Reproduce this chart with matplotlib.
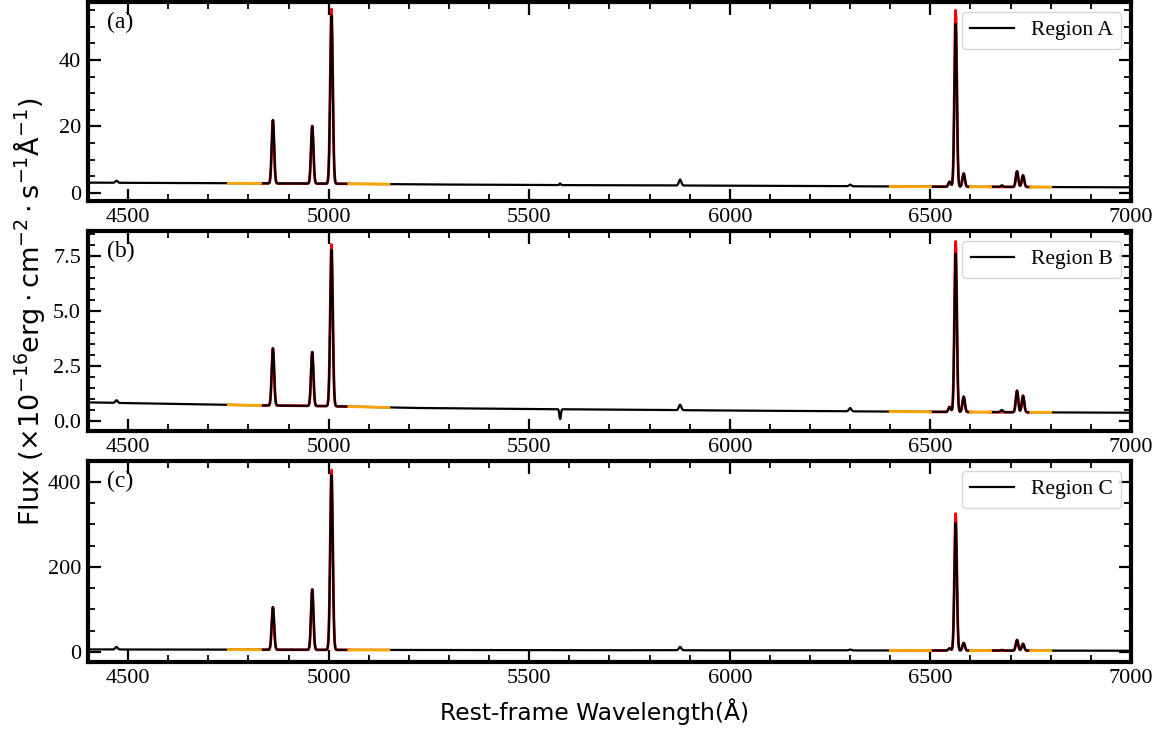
import numpy as np
import matplotlib.pyplot as plt
from matplotlib.ticker import MultipleLocator

# Raies (Å) : HeI, Hb, [OIII], [OIII], 5577, HeI, [OI], [NII], Ha, [NII], HeI, [SII], [SII]
raies = [4471, 4861, 4959, 5007, 5577, 5876, 6300, 6548, 6563, 6583, 6678, 6716, 6731]
sigmas = [3.0, 3.0, 3.0, 3.2, 1.8, 3.0, 3.0, 3.0, 3.0, 3.0, 3.0, 3.0, 3.0]
# raies ajustées par le modèle (rouge)
raies_fit = [4861, 4959, 5007, 6548, 6563, 6583, 6716, 6731]

# Continuum
cont_lambda = [4400, 4800, 5000, 5200, 5500, 6000, 6500, 7000]
cont_a = [3.1, 2.9, 2.8, 2.6, 2.4, 2.2, 1.9, 1.7]
cont_b = [0.85, 0.72, 0.68, 0.6, 0.55, 0.48, 0.42, 0.38]
cont_c = [6.0, 5.5, 5.0, 4.7, 4.3, 4.0, 3.5, 3.0]

# Hauteurs des raies au-dessus du continuum (observé)
pics_obs_a = [0.6, 19.0, 17.3, 50.5, 0.5, 1.8, 0.5, 1.5, 49.0, 4.0, 0.5, 4.7, 3.5]
pics_obs_b = [0.12, 2.6, 2.45, 7.1, -0.45, 0.25, 0.15, 0.23, 7.2, 0.7, 0.1, 0.98, 0.75]
pics_obs_c = [6.0, 100.0, 142.0, 411.0, 0.0, 8.0, 2.0, 5.0, 300.0, 18.0, 2.0, 25.0, 16.0]
# Hauteurs du modèle (rouge)
pics_fit_a = [19.0, 17.3, 52.5, 1.5, 53.0, 4.0, 4.7, 3.5]
pics_fit_b = [2.6, 2.45, 7.35, 0.23, 7.75, 0.7, 0.98, 0.75]
pics_fit_c = [100.0, 142.0, 423.0, 5.0, 322.0, 18.0, 25.0, 16.0]

fenetres_cont = [(4750, 4830), (5050, 5150), (6400, 6500), (6600, 6650), (6750, 6800)]
fenetres_fit = [(4830, 5050), (6500, 6600), (6650, 6750)]

noms = ['Region A', 'Region B', 'Region C']
lettres = ['(a)', '(b)', '(c)']
ylims = [(-2.4, 57.4), (-0.45, 8.64), (-23.5, 449)]
majeurs = [20, 2.5, 200]
mineurs = [5, 0.5, 50]

lam = np.arange(4400, 7001, 1.0)


def gauss(centre, sigma, hauteur):
    return hauteur * np.exp(-0.5 * ((lam - centre) / sigma) ** 2)


def spectre(cont, pics, centres):
    flux = np.interp(lam, cont_lambda, cont)
    for c, h in zip(centres, pics):
        s = sigmas[raies.index(c)]
        flux = flux + gauss(c, s, h)
    return flux


plt.rcParams['font.family'] = ['Liberation Serif', 'DejaVu Serif']
plt.rcParams['mathtext.fontset'] = 'dejavusans'

fig = plt.figure(figsize=(11.64, 7.34), dpi=100)
positions = [(0.0756, 0.7262, 0.896, 0.2711),
             (0.0756, 0.4128, 0.896, 0.2725),
             (0.0756, 0.0981, 0.896, 0.2738)]

donnees = [(cont_a, pics_obs_a, pics_fit_a),
           (cont_b, pics_obs_b, pics_fit_b),
           (cont_c, pics_obs_c, pics_fit_c)]

for i, (cont, obs, fit) in enumerate(donnees):
    ax = fig.add_axes(positions[i])
    flux_obs = spectre(cont, obs, raies)
    flux_fit = spectre(cont, fit, raies_fit)

    # modèle en rouge sous le spectre
    for a, b in fenetres_fit:
        m = (lam >= a) & (lam <= b)
        ax.plot(lam[m], flux_fit[m], color='red', lw=2.0, zorder=2)
    ax.plot(lam, flux_obs, color='black', lw=1.6, label=noms[i], zorder=3)
    # fenêtres de continuum en orange
    for a, b in fenetres_cont:
        m = (lam >= a) & (lam <= b)
        ax.plot(lam[m], flux_obs[m], color='orange', lw=2.0, zorder=4)

    ax.set_xlim(4400, 7000)
    ax.set_ylim(*ylims[i])
    ax.xaxis.set_major_locator(MultipleLocator(500))
    ax.xaxis.set_minor_locator(MultipleLocator(100))
    ax.yaxis.set_major_locator(MultipleLocator(majeurs[i]))
    ax.yaxis.set_minor_locator(MultipleLocator(mineurs[i]))
    ax.tick_params(which='both', direction='in', top=True, right=True, labelsize=16)
    ax.tick_params(which='major', length=9, width=1.6, pad=5)
    ax.tick_params(which='minor', length=5, width=1.3)
    for sp in ax.spines.values():
        sp.set_linewidth(3)

    ax.text(0.018, 0.95, lettres[i], transform=ax.transAxes, fontsize=17,
            va='top', ha='left')
    ax.legend(loc='upper right', fontsize=15.5, handlelength=2.0,
              borderaxespad=0.45)

fig.text(0.025, 0.575,
         r'Flux ($\times 10^{-16}\mathrm{erg} \cdot \mathrm{cm}^{-2} \cdot '
         r'\mathrm{s}^{-1}\mathrm{\AA}^{-1}$)',
         rotation=90, ha='center', va='center', fontsize=19.5, family='DejaVu Sans')
fig.text(0.511, 0.03, 'Rest-frame Wavelength(Å)', ha='center', va='center',
         fontsize=16.8, family='DejaVu Sans')

fig.savefig('out.png', dpi=100)
